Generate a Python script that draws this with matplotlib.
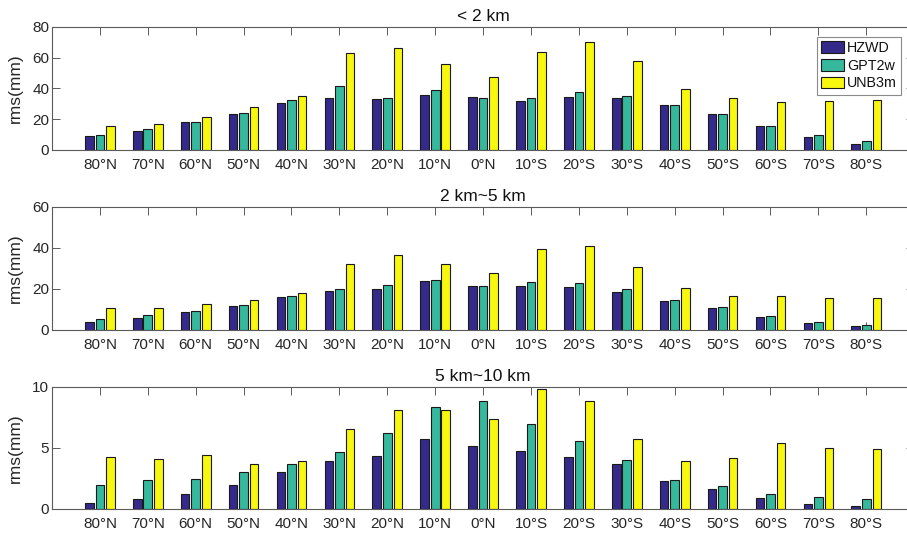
import matplotlib
matplotlib.use("Agg")
import matplotlib.pyplot as plt
import numpy as np

plt.rcParams['font.family'] = ['Liberation Sans', 'DejaVu Sans']

latitudes = ['80°N', '70°N', '60°N', '50°N', '40°N', '30°N', '20°N', '10°N', '0°N',
             '10°S', '20°S', '30°S', '40°S', '50°S', '60°S', '70°S', '80°S']
models = ['HZWD', 'GPT2w', 'UNB3m']
colors = ['#35298a', '#36b89d', '#f8f80f']

# RMS (mm) per latitude band, below 2 km
low_hzwd = [8.7, 12.2, 17.8, 23.0, 30.4, 33.5, 32.8, 35.7, 34.6, 31.7, 34.6, 33.9, 28.9, 23.0, 15.2, 8.5, 3.7]
low_gpt2w = [9.3, 13.3, 17.8, 23.7, 32.2, 41.7, 33.9, 38.7, 33.9, 33.5, 37.4, 35.0, 29.3, 23.0, 15.4, 9.3, 5.4]
low_unb3m = [15.2, 17.0, 21.5, 27.6, 35.0, 63.0, 66.5, 55.7, 47.2, 63.5, 70.0, 57.8, 39.6, 33.9, 31.1, 31.5, 32.2]

# RMS (mm) per latitude band, 2 km to 5 km
mid_hzwd = [3.9, 5.7, 8.6, 11.7, 15.8, 18.9, 19.7, 23.8, 21.5, 21.2, 20.7, 18.6, 14.0, 10.4, 6.4, 3.1, 1.8]
mid_gpt2w = [5.2, 7.0, 9.3, 12.1, 16.3, 19.7, 21.8, 24.5, 21.5, 23.2, 22.7, 19.9, 14.7, 10.9, 6.5, 3.6, 2.1]
mid_unb3m = [10.4, 10.4, 12.4, 14.7, 18.1, 32.1, 36.4, 32.3, 27.9, 39.5, 40.8, 30.5, 20.2, 16.3, 16.3, 15.5, 15.5]

# RMS (mm) per latitude band, 5 km to 10 km
high_hzwd = [0.49, 0.77, 1.21, 1.92, 2.99, 3.89, 4.30, 5.73, 5.18, 4.71, 4.22, 3.64, 2.30, 1.59, 0.85, 0.36, 0.19]
high_gpt2w = [1.97, 2.36, 2.44, 3.04, 3.64, 4.68, 6.19, 8.38, 8.82, 6.99, 5.56, 4.03, 2.36, 1.86, 1.21, 0.96, 0.77]
high_unb3m = [4.22, 4.11, 4.38, 3.70, 3.95, 6.52, 8.11, 8.11, 7.40, 9.81, 8.82, 5.73, 3.89, 4.16, 5.37, 5.01, 4.93]

panels = [
    ('< 2 km', [low_hzwd, low_gpt2w, low_unb3m], [0, 20, 40, 60, 80]),
    ('2 km~5 km', [mid_hzwd, mid_gpt2w, mid_unb3m], [0, 20, 40, 60]),
    ('5 km~10 km', [high_hzwd, high_gpt2w, high_unb3m], [0, 5, 10]),
]

W, H = 907, 536
fig = plt.figure(figsize=(W / 100, H / 100), dpi=100)

# axes boxes in pixels: (top, bottom); x range spans 0..18 category units
left_px = 52
px_per_unit = 47.9
boxes = [(27, 149.7), (207, 329.7), (387, 508.7)]

x = np.arange(1, len(latitudes) + 1)
bar_w = 0.18
offsets = [-0.22, 0.0, 0.22]
axis_grey = '#5a5a5a'
text_grey = '#262626'

for idx, ((title, series, yticks), (top, bot)) in enumerate(zip(panels, boxes)):
    ax = fig.add_axes([left_px / W, (H - bot) / H, 18 * px_per_unit / W, (bot - top) / H])
    ax.set_axisbelow(True)
    for vals, off, col, name in zip(series, offsets, colors, models):
        ax.bar(x + off, vals, width=bar_w, color=col, edgecolor='#1a1a1a',
               linewidth=0.8, label=name, zorder=2)
    ax.set_xlim(0, 18)
    ax.set_ylim(yticks[0], yticks[-1])
    ax.set_yticks(yticks)
    ax.set_xticks(x)
    ax.set_xticklabels(latitudes)
    ax.tick_params(axis='both', direction='in', length=6, width=0.7, color=axis_grey,
                   labelsize=11, labelcolor=text_grey, top=True, right=True)
    ax.tick_params(axis='x', pad=6)
    ax.tick_params(axis='y', pad=2)
    for sp in ax.spines.values():
        sp.set_color(axis_grey)
        sp.set_linewidth(0.8)
    ax.set_title(title, fontsize=12.5, color='#111111', pad=4)
    ax.set_ylabel('rms(mm)', fontsize=12.5, color=text_grey)
    ax.yaxis.set_label_coords((23 - left_px) / (18 * px_per_unit), 0.5)
    if idx == 0:
        leg = ax.legend(loc='upper right', bbox_to_anchor=(0.9846, 0.9185),
                        borderaxespad=0, fontsize=10.3, handlelength=1.6,
                        handleheight=0.9, handletextpad=0.2, labelspacing=0.25,
                        borderpad=0.3, fancybox=False, framealpha=1,
                        edgecolor='#8a8a8a')
        leg.get_frame().set_linewidth(0.8)
        for t in leg.get_texts():
            t.set_color('#111111')

fig.savefig('out.png', dpi=100)
